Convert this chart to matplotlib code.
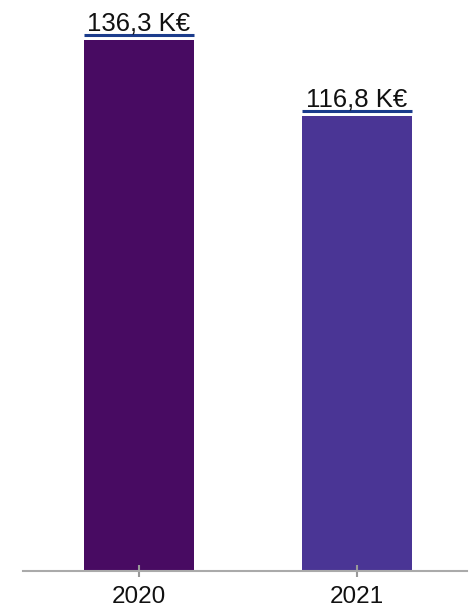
import matplotlib
matplotlib.use("Agg")
import matplotlib.pyplot as plt
from matplotlib.transforms import offset_copy

# 연도별 값 (K€)
years = ["2020", "2021"]
values = [136.3, 116.8]
labels = ["136,3 K€", "116,8 K€"]
colors = ["#480B62", "#4A3595"]

plt.rcParams["font.family"] = ["Liberation Sans", "DejaVu Sans"]

fig = plt.figure(figsize=(4.75, 6.08), dpi=100)
ax = fig.add_axes([23 / 475, 37 / 608, 444 / 475, 571 / 608])

x = list(range(len(years)))
w = 0.505
ax.bar(x, values, width=w, color=colors)

# 막대 위의 파란 선과 값 라벨
line_tr = offset_copy(ax.transData, fig=fig, x=0, y=5, units="dots")
for xi, v, lab in zip(x, values, labels):
    ax.plot([xi - w / 2, xi + w / 2], [v, v], color="#1B3C8C", lw=2.2,
            transform=line_tr, solid_capstyle="butt", clip_on=False)
    ax.annotate(lab, (xi, v), xytext=(0, 7), textcoords="offset points",
                ha="center", va="baseline", fontsize=18.5, color="#111111")

ax.set_xlim(-0.532, 1.505)
ax.set_ylim(0, 136.3 * 571 / 531)
ax.set_xticks(x)
ax.set_xticklabels(years, fontsize=17.5, color="#111111")
ax.set_yticks([])
for s in ["top", "right", "left"]:
    ax.spines[s].set_visible(False)
ax.spines["bottom"].set_color("#AAAAAA")
ax.spines["bottom"].set_linewidth(1.5)
ax.tick_params(axis="x", direction="inout", length=8.5, width=1.5,
               color="#999999", pad=6.5)

fig.savefig("out.png", dpi=100)
